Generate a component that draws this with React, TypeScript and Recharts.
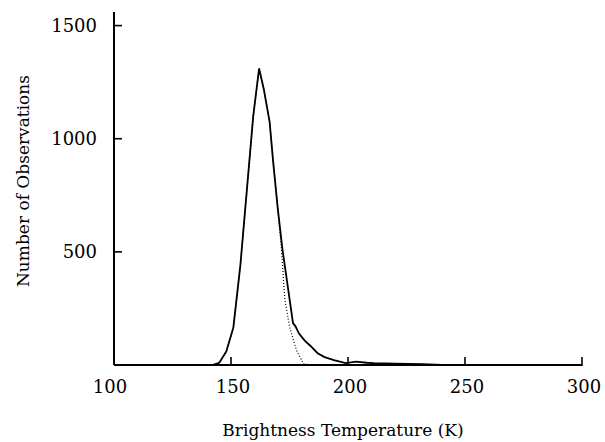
import React from "react";
import { LineChart, Line, XAxis, YAxis } from "recharts";

const obsTemp = [100, 142, 145, 148, 151, 154, 156, 158, 159.5, 162, 164, 166.5, 168, 170, 172, 174.5, 176.5, 177.5, 179, 181.5, 184, 187, 190, 194, 199, 203.5, 208, 211, 220, 232, 240, 300];
const obsCount = [0, 0, 10, 60, 165, 440, 680, 920, 1100, 1310, 1220, 1075, 900, 690, 510, 330, 185, 172, 140, 108, 84, 52, 35, 22, 8, 15, 10, 8, 6, 4, 0, 0];

const fitTemp = [142, 145, 148, 151, 154, 156, 158, 159.5, 162, 164, 166.5, 168, 170, 171.5, 173, 175, 178, 181, 185, 200];
const fitCount = [0, 10, 60, 165, 440, 680, 920, 1100, 1310, 1220, 1075, 900, 690, 520, 290, 170, 64, 5, 0, 0];

const xTicks = [100, 150, 200, 250, 300];
const yTicks = [500, 1000, 1500];

const obsData = obsTemp.map((t, i) => ({ t, n: obsCount[i] }));
const fitData = fitTemp.map((t, i) => ({ t, n: fitCount[i] }));

const FONT = "DejaVu Serif";

const XTick = (props: any) => {
  const { x, y, payload } = props;
  const v = payload.value;
  return (
    <g>
      {v !== 100 && <line x1={x} y1={y + 1} x2={x} y2={y - 8} stroke="#000" strokeWidth={1.6} />}
      <text x={v === 100 ? x - 4 : x + 2} y={y + 28} textAnchor="middle" fontFamily={FONT} fontSize={18} fill="#000">
        {v}
      </text>
    </g>
  );
};

const YTick = (props: any) => {
  const { x, y, payload } = props;
  return (
    <g>
      <line x1={x} y1={y} x2={x + 8} y2={y} stroke="#000" strokeWidth={1.6} />
      <text x={x - 17} y={y} dy="0.36em" textAnchor="end" fontFamily={FONT} fontSize={18} fill="#000">
        {payload.value}
      </text>
    </g>
  );
};

export default function App() {
  return (
    <div style={{ position: "absolute", left: 0, top: 0, width: 605, height: 442, background: "#fff" }}>
      <LineChart width={605} height={442} margin={{ top: 12, right: 23, left: 0, bottom: 0 }}>
        <XAxis
          type="number"
          dataKey="t"
          domain={[100, 300]}
          ticks={xTicks}
          allowDataOverflow
          height={77}
          tickSize={0}
          tickMargin={0}
          tickLine={false}
          axisLine={{ stroke: "#000", strokeWidth: 2 }}
          tick={<XTick />}
          interval={0}
        />
        <YAxis
          type="number"
          dataKey="n"
          domain={[0, 1560]}
          ticks={yTicks}
          allowDataOverflow
          width={114}
          tickSize={0}
          tickMargin={0}
          tickLine={false}
          axisLine={{ stroke: "#000", strokeWidth: 2 }}
          tick={<YTick />}
          interval={0}
        />
        <Line
          data={fitData}
          dataKey="n"
          type="linear"
          stroke="#000"
          strokeWidth={1.2}
          strokeDasharray="1 2"
          dot={false}
          isAnimationActive={false}
        />
        <Line
          data={obsData}
          dataKey="n"
          type="linear"
          stroke="#000"
          strokeWidth={1.8}
          dot={false}
          isAnimationActive={false}
        />
        <text x={343} y={436} textAnchor="middle" fontFamily={FONT} fontSize={17} fill="#000">
          Brightness Temperature (K)
        </text>
        <text
          x={23}
          y={181}
          transform="rotate(-90 23 181)"
          textAnchor="middle"
          dominantBaseline="central"
          fontFamily={FONT}
          fontSize={17}
          fill="#000"
        >
          Number of Observations
        </text>
      </LineChart>
    </div>
  );
}
